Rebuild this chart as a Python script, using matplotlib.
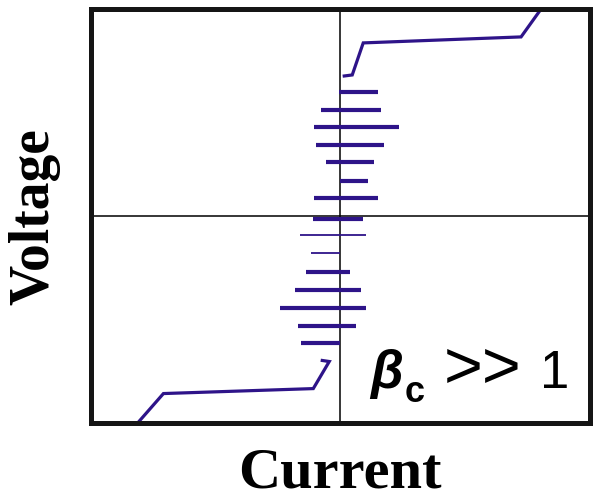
import numpy as np
import matplotlib
matplotlib.use("Agg")
import matplotlib.pyplot as plt

# I-V curve of an underdamped junction (arbitrary units)
# outer branches: resistive state below / above the gap
lower_i = [-0.824, -0.708, -0.108, -0.044, -0.072]
lower_v = [-1.02, -0.860, -0.836, -0.705, -0.700]
upper_i = [0.016, 0.048, 0.092, 0.724, 0.816]
upper_v = [0.676, 0.681, 0.836, 0.865, 1.02]

# hysteretic switching steps (horizontal jumps)
step_v = [0.599, 0.512, 0.430, 0.343, 0.261, 0.169, 0.087, -0.014,
          -0.271, -0.357, -0.444, -0.531, -0.614]
step_i0 = [-0.004, -0.076, -0.104, -0.096, -0.056, 0.0, -0.104, -0.108,
           -0.136, -0.180, -0.240, -0.168, -0.156]
step_i1 = [0.152, 0.164, 0.236, 0.176, 0.136, 0.112, 0.152, 0.092,
           0.040, 0.084, 0.104, 0.064, 0.0]

# fainter steps
thin_v = [-0.092, -0.179]
thin_i0 = [-0.160, -0.116]
thin_i1 = [0.104, 0.0]

line_col = "#2e1489"

fig = plt.figure(figsize=(5.94, 5.0), dpi=100)
ax = fig.add_axes([90.5 / 594, 77.5 / 500, 499.5 / 594, 413.5 / 500])

ax.axhline(0, color="black", lw=1.1, zorder=1)
ax.axvline(0, color="black", lw=1.1, zorder=1)

ax.plot(lower_i, lower_v, color=line_col, lw=2.3, solid_joinstyle="miter", zorder=2)
ax.plot(upper_i, upper_v, color=line_col, lw=2.3, solid_joinstyle="miter", zorder=2)
ax.hlines(step_v, step_i0, step_i1, color=line_col, lw=3.0, zorder=2)
ax.hlines(thin_v, thin_i0, thin_i1, color=line_col, lw=1.3, zorder=2)

ax.set_xlim(-1, 1)
ax.set_ylim(-1, 1)
ax.set_xticks([])
ax.set_yticks([])
for s in ax.spines.values():
    s.set_linewidth(3.6)
    s.set_color("#151515")

serif = ["Liberation Serif", "DejaVu Serif"]
sans = ["Liberation Sans", "DejaVu Sans"]

fig.text(34 / 594, 1 - 217 / 500, "Voltage", rotation=90, ha="center", va="center",
         family=serif, weight="bold", fontsize=40)
fig.text(340 / 594, 0.002, "Current", ha="center", va="bottom",
         family=serif, weight="bold", fontsize=42)

# beta_c >> 1 label
fig.text(370 / 594, 1 - 388 / 500, "β", ha="left", va="baseline",
         family=sans, weight="bold", style="italic", fontsize=38)
fig.text(405 / 594, 1 - 402 / 500, "c", ha="left", va="baseline",
         family=sans, weight="bold", fontsize=26)
fig.text(444 / 594, 1 - 387 / 500, ">>", ha="left", va="baseline",
         family=sans, fontsize=48)
fig.text(540 / 594, 1 - 388 / 500, "1", ha="left", va="baseline",
         family=sans, fontsize=38)

fig.savefig("out.png", dpi=100)
